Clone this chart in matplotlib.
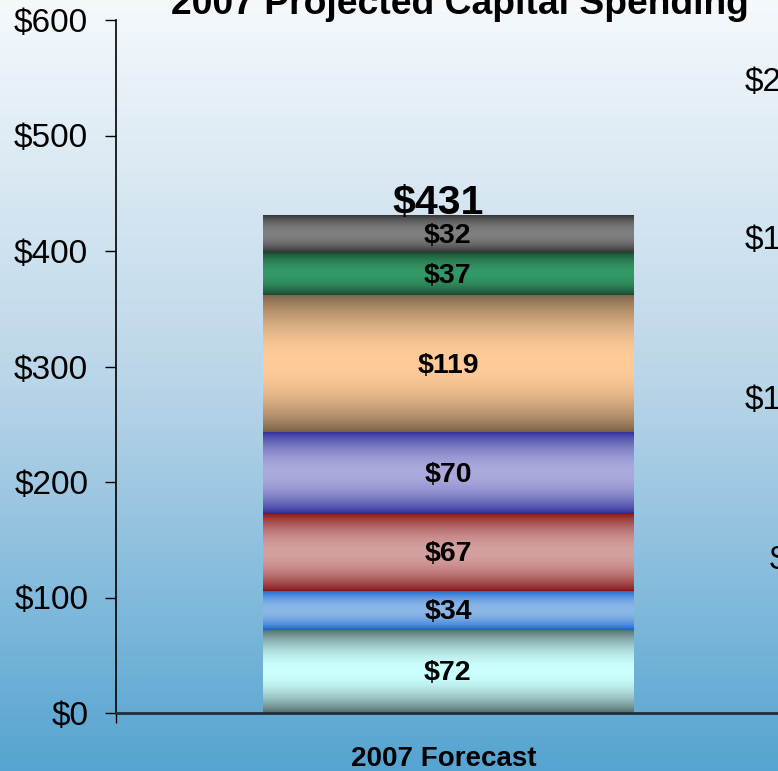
import matplotlib
matplotlib.use("Agg")
import matplotlib.pyplot as plt
import numpy as np
from matplotlib.colors import to_rgb
from matplotlib.ticker import FuncFormatter

# data
category = "2007 Forecast"
values = [72, 34, 67, 70, 119, 37, 32]
total = 431
# (edge colour, centre colour) for each stacked segment, bottom to top
dark_colors = ["#506666", "#1060d0", "#861212", "#30309c", "#786048", "#1a4830", "#333333"]
light_colors = ["#ccffff", "#8cb8e8", "#d4a0a0", "#aaaadc", "#ffcc99", "#339966", "#808080"]
yticks = [0, 100, 200, 300, 400, 500, 600]
right_labels = ["$200", "$150", "$100", "$50"]
right_label_y = [82, 241, 400, 560]
right_label_x = [745, 745, 745, 770]

plt.rcParams["font.family"] = ["Liberation Sans", "DejaVu Sans"]

fig = plt.figure(figsize=(7.78, 7.71), dpi=100)

# background gradient of the slide
bg = fig.add_axes([0, 0, 1, 1], zorder=0)
top_c = np.array(to_rgb("#f5f9fc"))
mid_c = np.array(to_rgb("#b9d5e8"))
bot_c = np.array(to_rgb("#55a4d1"))
t = np.linspace(0, 1, 400)[:, None]
grad = np.where(t < 0.5, top_c + (mid_c - top_c) * (t / 0.5),
                mid_c + (bot_c - mid_c) * ((t - 0.5) / 0.5))
bg.imshow(grad[:, None, :], aspect="auto", extent=(0, 1, 0, 1))
bg.axis("off")

ax = fig.add_axes([116 / 778, 1 - 713 / 771, 1 - 116 / 778, 693 / 771], zorder=1)
ax.patch.set_alpha(0)

left, right = -0.5, 0.5
bottom = 0
s = np.linspace(0, 1, 200)
f = np.sin(np.pi * s) ** 0.8
for v, dc, lc in zip(values, dark_colors, light_colors):
    d = np.array(to_rgb(dc))
    l = np.array(to_rgb(lc))
    img = d + (l - d) * f[:, None]
    ax.imshow(img[:, None, :], aspect="auto", origin="lower",
              extent=(left, right, bottom, bottom + v), interpolation="bilinear", zorder=2)
    ax.text(0, bottom + v / 2 - 1.8, f"${v}", ha="center", va="center",
            fontsize=20.5, fontweight="bold", zorder=3)
    bottom += v

ax.text(-0.027, total + 1, f"${total}", ha="center", va="baseline",
        fontsize=29.5, fontweight="bold", zorder=3)

ax.set_xlim(-0.897, 0.892)
ax.set_ylim(0, 600)
ax.set_yticks(yticks)
ax.yaxis.set_major_formatter(FuncFormatter(lambda y, p: f"${y:.0f}"))
ax.tick_params(axis="y", direction="out", length=8, width=1, labelsize=24, pad=12)
ax.set_xticks([-0.897])
ax.set_xticklabels([""])
ax.tick_params(axis="x", direction="out", length=7, width=1)
for side in ["top", "right"]:
    ax.spines[side].set_visible(False)
ax.spines["left"].set_linewidth(1.2)
ax.spines["bottom"].set_linewidth(2)
ax.spines["bottom"].set_color("#1f2f3a")
ax.spines["bottom"].set_zorder(4)

ax.text(-0.01, -40, category, ha="center", va="center", fontsize=20, fontweight="bold")

fig.text(460 / 778, 1 - 14 / 771, "2007 Projected Capital Spending", ha="center", va="baseline",
         fontsize=26.8, fontweight="bold")

for lab, y, x in zip(right_labels, right_label_y, right_label_x):
    fig.text(x / 778, 1 - y / 771, lab, ha="left", va="center", fontsize=24)

fig.savefig("out.png", dpi=100)
